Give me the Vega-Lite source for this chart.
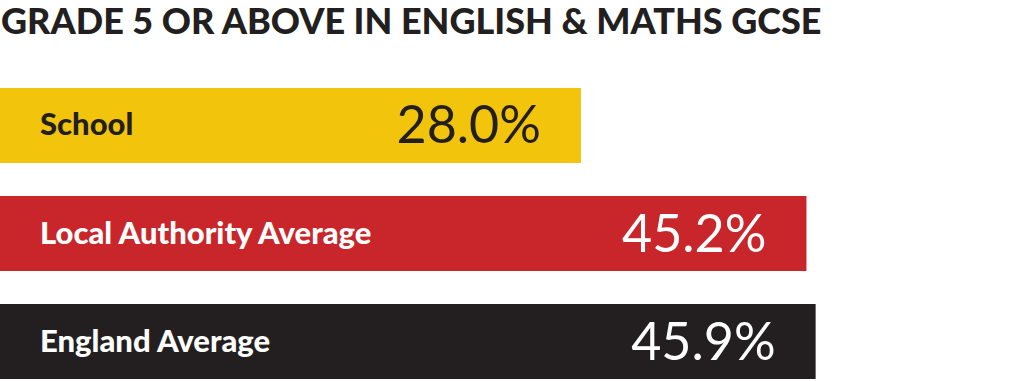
{
  "$schema": "https://vega.github.io/schema/vega-lite/v6.json",
  "width": 1024,
  "height": 291,
  "autosize": {"type": "none"},
  "padding": {"top": 88, "left": 0, "right": 0, "bottom": 2},
  "background": "white",
  "title": {
    "text": "GRADE 5 OR ABOVE IN ENGLISH & MATHS GCSE",
    "anchor": "start",
    "frame": "group",
    "font": "Lato",
    "fontSize": 36,
    "fontWeight": 900,
    "color": "#231F20",
    "dx": 1,
    "offset": 46
  },
  "data": {
    "values": [
      {"category": "School", "value": 28.0, "label": "28.0%"},
      {"category": "Local Authority Average", "value": 45.2, "label": "45.2%"},
      {"category": "England Average", "value": 45.9, "label": "45.9%"}
    ]
  },
  "config": {"view": {"stroke": null}},
  "encoding": {
    "y": {
      "field": "category",
      "type": "nominal",
      "sort": null,
      "axis": null,
      "scale": {"paddingInner": 0.306, "paddingOuter": 0}
    }
  },
  "layer": [
    {
      "mark": {"type": "bar"},
      "encoding": {
        "x": {"field": "value", "type": "quantitative", "axis": null, "scale": {"domain": [-16.3, 61.79], "zero": false, "nice": false}},
        "x2": {"datum": -16.3},
        "color": {
          "field": "category",
          "type": "nominal",
          "legend": null,
          "scale": {
            "domain": ["School", "Local Authority Average", "England Average"],
            "range": ["#F2C40C", "#C8262A", "#231F20"]
          }
        }
      }
    },
    {
      "mark": {"type": "text", "align": "left", "baseline": "middle", "dx": 40, "dy": 1, "font": "Lato", "fontSize": 31, "fontWeight": 900},
      "encoding": {
        "x": {"datum": -16.3, "type": "quantitative"},
        "text": {"field": "category"},
        "color": {
          "condition": {"test": "datum.category === 'School'", "value": "#231F20"},
          "value": "white"
        }
      }
    },
    {
      "mark": {"type": "text", "align": "right", "baseline": "middle", "dx": -40, "dy": 2, "font": "Lato", "fontSize": 52, "fontWeight": 400},
      "encoding": {
        "x": {"field": "value", "type": "quantitative"},
        "text": {"field": "label"},
        "color": {
          "condition": {"test": "datum.category === 'School'", "value": "#231F20"},
          "value": "white"
        }
      }
    }
  ]
}
